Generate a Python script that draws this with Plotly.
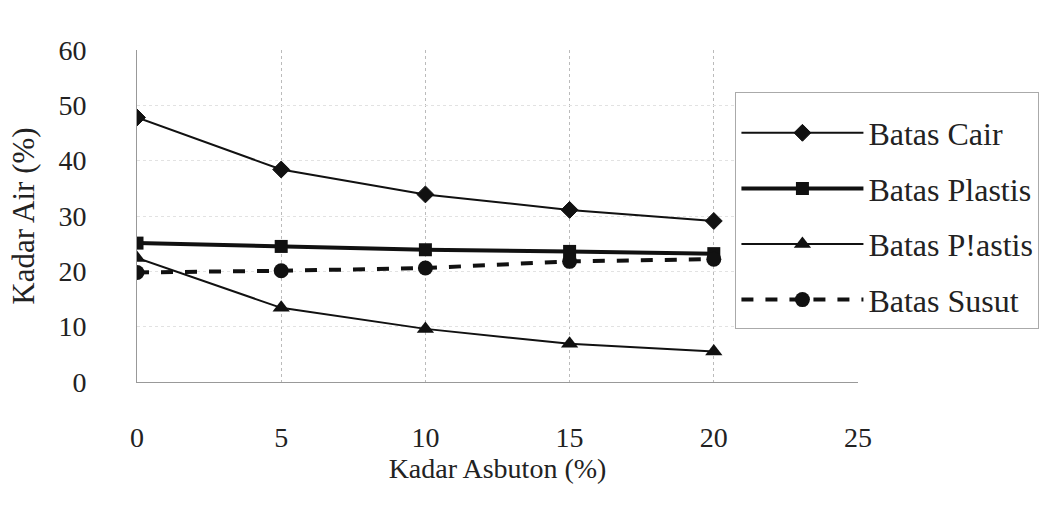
import plotly.graph_objects as go

x_vals = [0, 5, 10, 15, 20]
batas_cair = [47.8, 38.4, 33.9, 31.1, 29.1]
batas_plastis = [25.1, 24.5, 23.9, 23.6, 23.2]
batas_plastis_2 = [22.4, 13.4, 9.6, 6.9, 5.5]
batas_susut = [19.8, 20.1, 20.6, 21.8, 22.2]

x_ticks = [0, 5, 10, 15, 20, 25]
y_ticks = [0, 10, 20, 30, 40, 50, 60]

FONT = "Liberation Serif"

fig = go.Figure()
fig.add_trace(go.Scatter(x=x_vals, y=batas_cair, name="Batas Cair", mode="lines+markers",
                         line=dict(color="#111", width=2),
                         marker=dict(symbol="diamond", size=13, color="#111", line=dict(color="#111", width=1)),
                         legendgroup="a"))
fig.add_trace(go.Scatter(x=x_vals, y=batas_plastis, name="Batas Plastis", mode="lines+markers",
                         line=dict(color="#111", width=4),
                         marker=dict(symbol="square", size=13, color="#111"),
                         legendgroup="b"))
fig.add_trace(go.Scatter(x=x_vals, y=batas_plastis_2, name="Batas P!astis", mode="lines+markers",
                         line=dict(color="#111", width=2),
                         marker=dict(symbol="triangle-up", size=15, color="#111"),
                         legendgroup="c"))
fig.add_trace(go.Scatter(x=x_vals, y=batas_susut, name="Batas Susut", mode="lines+markers",
                         line=dict(color="#111", width=4, dash="dash"),
                         marker=dict(symbol="circle", size=15, color="#111"),
                         legendgroup="d"))

fig.update_layout(
    width=1059, height=527,
    margin=dict(l=137, r=201, t=50, b=145),
    paper_bgcolor="white", plot_bgcolor="white",
    font=dict(family=FONT, size=28, color="#222"),
    showlegend=True,
    legend=dict(x=0.83, y=0.875, xanchor="left", yanchor="top",
                bordercolor="#aaa", borderwidth=1, bgcolor="white",
                font=dict(family=FONT, size=32, color="#222"),
                title=dict(text=" ", font=dict(size=10)),
                tracegroupgap=11, itemwidth=122),
    xaxis=dict(range=[0, 25], tickvals=x_ticks, showgrid=True, gridcolor="#bbb",
               griddash="dot", gridwidth=1, showline=True, linecolor="#999", linewidth=1,
               zeroline=False, ticks="", ticklabelstandoff=30,
               title=dict(text="Kadar Asbuton (%)", standoff=4, font=dict(size=28))),
    yaxis=dict(range=[0, 60], tickvals=y_ticks, showgrid=True, gridcolor="#e2e2e2",
               griddash="dot", gridwidth=1, showline=True, linecolor="#999", linewidth=1,
               zeroline=False, ticks="", ticklabelstandoff=44,
               title=dict(text="Kadar Air (%)", standoff=14, font=dict(size=31))),
)

fig.write_html("out.html")
